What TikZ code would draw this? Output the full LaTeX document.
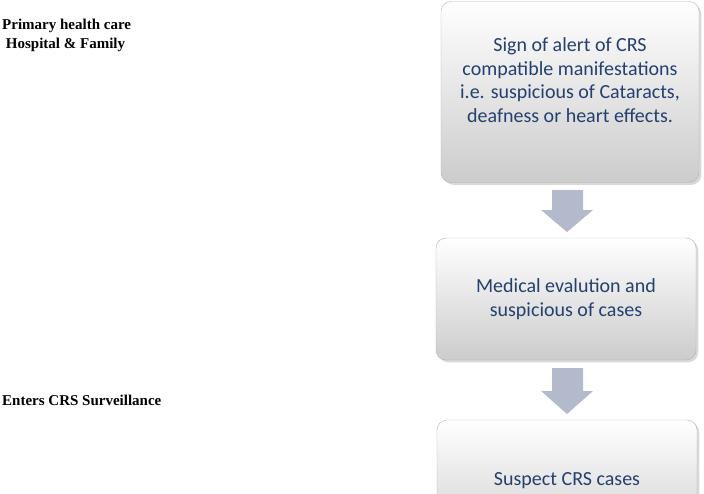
\documentclass[tikz,border=0pt]{standalone}
\usepackage{fontspec}
\setmainfont{Liberation Serif}
\newfontfamily\boxfont{Carlito}
\usetikzlibrary{shadows}
\definecolor{boxtext}{RGB}{36,64,110}
\definecolor{arrowfill}{RGB}{178,186,204}
\tikzset{
  stagebox/.style={draw=gray!60, rounded corners=10pt, top color=white,
    bottom color=gray!40, drop shadow={opacity=0.3}},
  stagetext/.style={text=boxtext, align=center, font=\boxfont\fontsize{20}{23.5}\selectfont},
  downarrow/.style={fill=arrowfill, draw=none},
  sidelabel/.style={anchor=west, inner sep=0pt, font=\bfseries\fontsize{15}{19}\selectfont, align=left}
}
\begin{document}
\begin{tikzpicture}[x=1pt,y=-1pt]
\useasboundingbox (0,0) rectangle (704,493);
% boxes
\node[stagebox, minimum width=258pt, minimum height=181pt] (alert) at (570,92) {};
\node[stagetext] (alerttext) at (570,80)
  {Sign of alert of CRS\\compatible manifestations\\i.e. suspicious of Cataracts,\\deafness or heart effects.};
\node[stagebox, minimum width=260pt, minimum height=122pt] (evaluation) at (566,299) {};
\node[stagetext] (evaluationtext) at (566,299) {Medical evalution and\\suspicious of cases};
\begin{scope}
\clip (0,0) rectangle (704,493);
\node[stagebox, minimum width=260pt, minimum height=130pt] (suspect) at (567,485) {};
\end{scope}
\node[stagetext] (suspecttext) at (567,481) {Suspect CRS cases};
% arrows
\fill[downarrow] (552,190) -- (583,190) -- (583,210) -- (593,210) -- (567,232)
  -- (541,210) -- (552,210) -- cycle;
\fill[downarrow] (552,368) -- (583,368) -- (583,391) -- (593,391) -- (567,414)
  -- (541,391) -- (552,391) -- cycle;
% side labels
\node[sidelabel] (care) at (2,35) {Primary health care\\\ Hospital \& Family};
\node[sidelabel] (enters) at (2,400) {Enters CRS Surveillance};
\end{tikzpicture}
\end{document}
